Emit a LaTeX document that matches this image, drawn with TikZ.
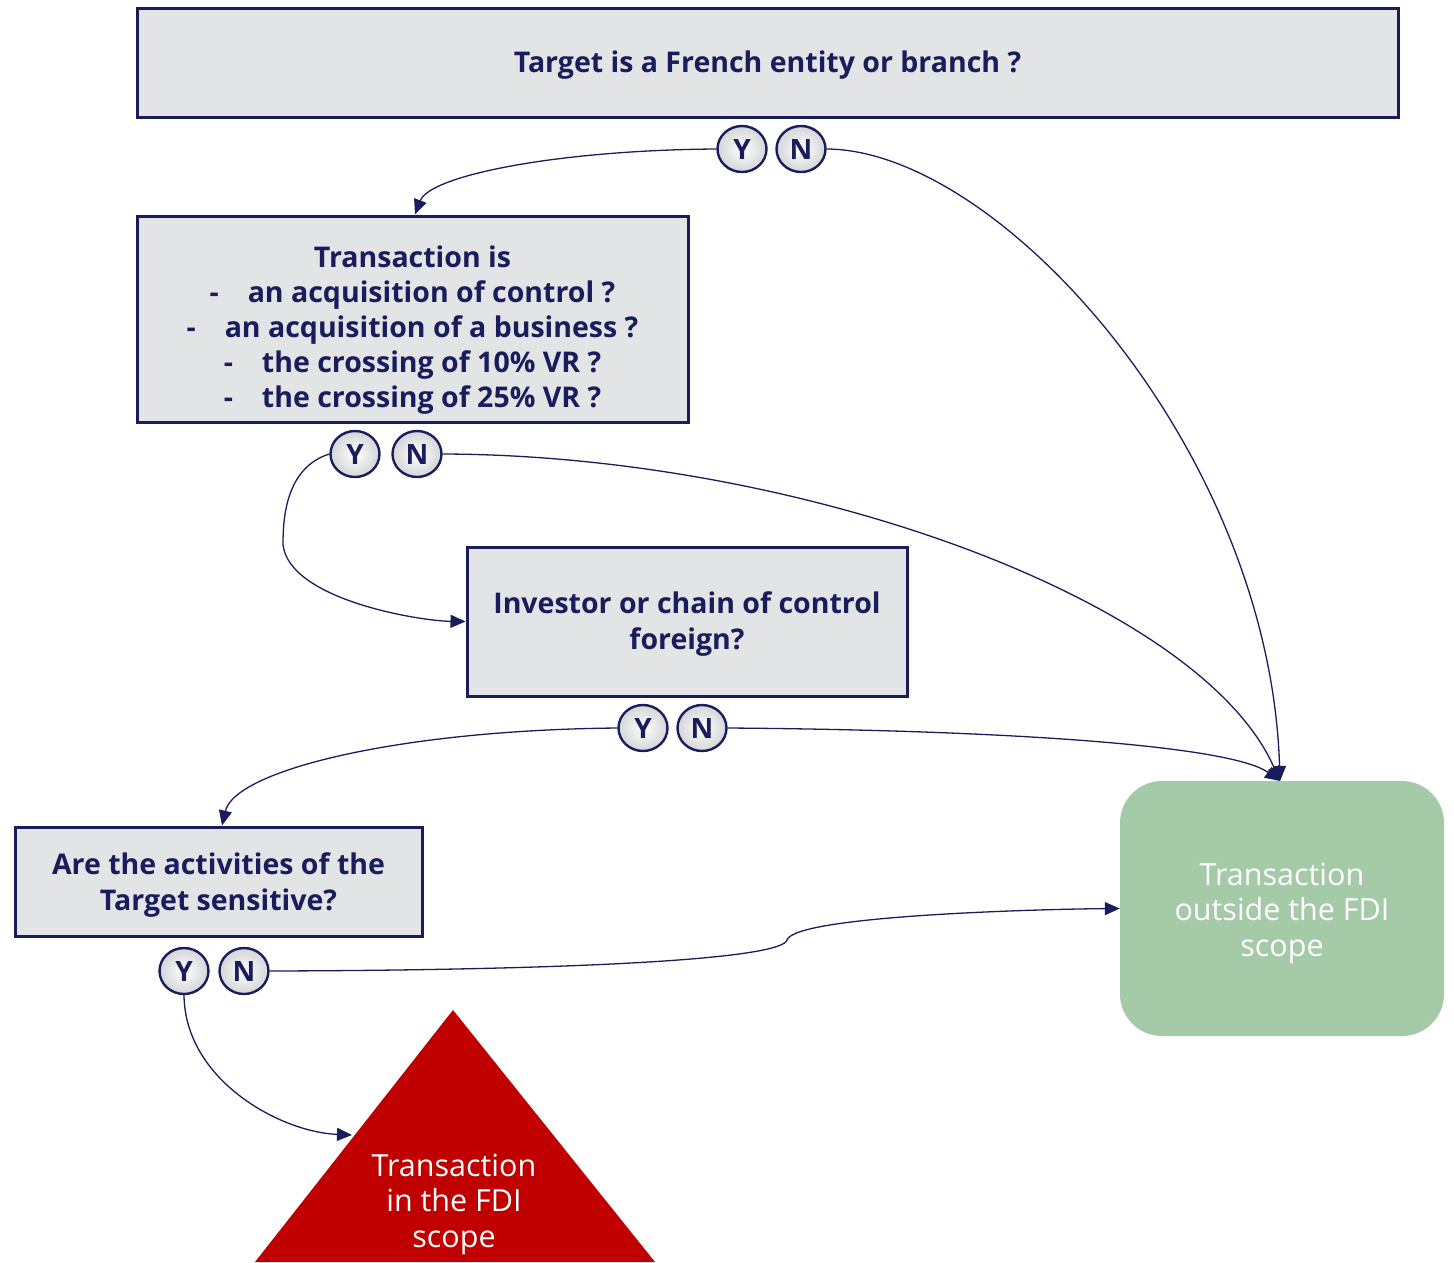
\documentclass[tikz,border=0pt]{standalone}
\usepackage{fontspec}
\setmainfont{Open Sans}
\usetikzlibrary{arrows.meta,shapes.geometric}
\definecolor{navy}{HTML}{1A1D5C}
\definecolor{boxgrey}{HTML}{E3E4E6}
\definecolor{okgreen}{HTML}{A5CAA8}
\definecolor{scopered}{HTML}{C00000}
\begin{document}
\begin{tikzpicture}[x=1pt,y=-1pt,
  qbox/.style={draw=navy,line width=3pt,fill=boxgrey},
  qtext/.style={text=navy,align=center,inner sep=0pt,
    font=\bfseries\fontsize{28.5}{35.2}\selectfont},
  yn/.style={ellipse,draw=navy,line width=2.4pt,inner color=white,outer color=boxgrey!85!gray,
    text=navy,minimum width=49pt,minimum height=46pt,inner sep=0pt,
    font=\bfseries\fontsize{28}{30}\selectfont},
  outtext/.style={text=white,align=center,inner sep=0pt,font=\fontsize{30.5}{35.5}\selectfont},
  link/.style={draw=navy,line width=1.3pt},
  arr/.style={link,-{Triangle[length=15pt,width=13pt]}}]
\useasboundingbox (0,0) rectangle (1454,1262);

% decision boxes
\node[qbox,minimum width=1261pt,minimum height=109pt] (q1) at (767.5,62.5) {};
\node[qtext] (q1t) at (767.5,65) {Target is a French entity or branch ?};
\node[qbox,minimum width=551pt,minimum height=206pt] (q2) at (412.5,319) {};
\node[qtext] (q2t) at (412.5,330) {Transaction is\\
  -\hspace{29pt}an acquisition of control ?\\
  -\hspace{29pt}an acquisition of a business ?\\
  -\hspace{29pt}the crossing of 10\% VR ?\\
  -\hspace{29pt}the crossing of 25\% VR ?};
\node[qbox,minimum width=440pt,minimum height=149pt] (q3) at (687,621.5) {};
\node[qtext] (q3t) at (687,624) {Investor or chain of control\\foreign?};
\node[qbox,minimum width=407pt,minimum height=109pt] (q4) at (218.5,881.5) {};
\node[qtext] (q4t) at (218.5,885) {Are the activities of the\\Target sensitive?};

% answer bubbles
\node[yn] (y1) at (742,149) {Y};
\node[yn] (n1) at (801,149) {N};
\node[yn] (y2) at (355,454) {Y};
\node[yn] (n2) at (417,454) {N};
\node[yn] (y3) at (643,728) {Y};
\node[yn] (n3) at (702,728) {N};
\node[yn] (y4) at (184,971) {Y};
\node[yn] (n4) at (244,971) {N};

% outcomes
\node[fill=okgreen,rounded corners=42pt,minimum width=324pt,minimum height=255pt] (out) at (1282,908.5) {};
\node[outtext] (outt) at (1282,913) {Transaction\\outside the FDI\\scope};
\fill[scopered] (453,1010) -- (655,1262) -- (255,1262) -- cycle;
\node[outtext] (in) at (454,1204) {Transaction\\in the FDI\\scope};
\coordinate (inedge) at (352,1135);
\coordinate (outtop) at (1280,781);

% connectors
\draw[arr] (y1.west) .. controls (560,150) and (430,175) .. (q2.north -| 415,0);
\draw[arr] (n1.east) .. controls (1000,150) and (1270,450) .. (outtop);
\draw[arr] (y2.west) .. controls (285,468) and (283,520) .. (283,545)
  .. controls (290,600) and (420,621) .. (q3.west);
\draw[arr] (n2.east) .. controls (800,455) and (1200,600) .. (outtop);
\draw[arr] (y3.west) .. controls (400,730) and (235,770) .. (q4.north -| 222,0);
\draw[arr] (n3.east) .. controls (1000,730) and (1230,745) .. (outtop);
\draw[arr] (y4.south) .. controls (185,1080) and (280,1132) .. (inedge);
\draw[arr] (n4.east) .. controls (600,970) and (782,958) .. (787,940)
  .. controls (795,915) and (1050,909) .. (out.west);
\end{tikzpicture}
\end{document}
